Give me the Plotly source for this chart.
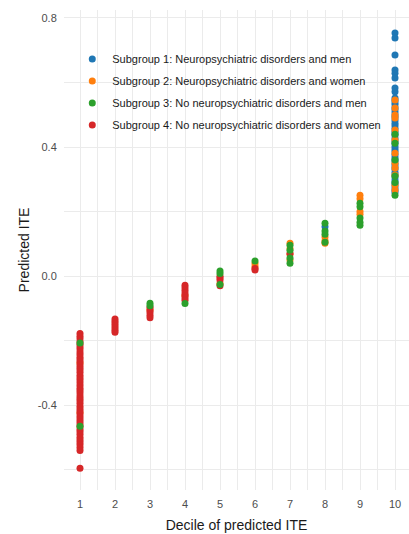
import plotly.graph_objects as go

# Subgroup labels and colours
group_names = [
    "Subgroup 1: Neuropsychiatric disorders and men",
    "Subgroup 2: Neuropsychiatric disorders and women",
    "Subgroup 3: No neuropsychiatric disorders and men",
    "Subgroup 4: No neuropsychiatric disorders and women",
]
group_colors = ["#1f77b4", "#ff7f0e", "#2ca02c", "#d62728"]

# Subgroup 1: decile and predicted ITE
sg1_decile = [8] + [10] * 46
sg1_ite = [0.153,
           0.753, 0.738, 0.685, 0.639, 0.629, 0.614, 0.583, 0.571,
           0.552, 0.545, 0.537, 0.531, 0.522, 0.515, 0.506, 0.498,
           0.491, 0.482, 0.474, 0.467, 0.458, 0.449, 0.442, 0.435,
           0.426, 0.418, 0.411, 0.402, 0.394, 0.387, 0.378, 0.369,
           0.362, 0.355, 0.346, 0.338, 0.331, 0.322, 0.314, 0.307,
           0.298, 0.290, 0.283, 0.274, 0.266, 0.259]

# Subgroup 2
sg2_decile = [1, 1, 3, 4, 5, 6, 6, 7, 7, 7, 7, 8, 8, 8, 9, 9, 9, 9,
              10, 10, 10, 10, 10, 10, 10, 10, 10, 10, 10, 10]
sg2_ite = [-0.269, -0.423, -0.105, -0.060, -0.022, 0.039, 0.030,
           0.102, 0.085, 0.068, 0.050, 0.121, 0.110, 0.102,
           0.251, 0.240, 0.200, 0.192,
           0.546, 0.521, 0.499, 0.490, 0.453, 0.422, 0.381, 0.350,
           0.335, 0.313, 0.282, 0.267]

# Subgroup 3
sg3_decile = [1, 1, 3, 3, 4, 5, 5, 5, 6, 7, 7, 7, 7, 8, 8, 8, 8,
              9, 9, 9, 9, 9, 10, 10, 10, 10, 10, 10]
sg3_ite = [-0.207, -0.465, -0.084, -0.092, -0.085, 0.016, 0.008, -0.026,
           0.047, 0.096, 0.080, 0.056, 0.040, 0.164, 0.140, 0.130, 0.105,
           0.226, 0.215, 0.180, 0.167, 0.158,
           0.440, 0.412, 0.360, 0.310, 0.290, 0.251]

# Subgroup 4
sg4_decile = [1] * 47 + [2] * 7 + [3] * 5 + [4] * 7 + [5] * 4 + [6] * 2 + [7]
sg4_ite = [-0.178, -0.186, -0.194, -0.203, -0.211, -0.219, -0.226, -0.235,
           -0.243, -0.251, -0.258, -0.266, -0.275, -0.283, -0.290, -0.298,
           -0.307, -0.315, -0.322, -0.330, -0.339, -0.347, -0.354, -0.362,
           -0.371, -0.379, -0.386, -0.394, -0.403, -0.411, -0.418, -0.426,
           -0.435, -0.443, -0.450, -0.458, -0.467, -0.475, -0.482, -0.490,
           -0.499, -0.507, -0.514, -0.522, -0.531, -0.540, -0.595,
           -0.133, -0.140, -0.147, -0.154, -0.161, -0.168, -0.174,
           -0.096, -0.105, -0.113, -0.121, -0.129,
           -0.028, -0.036, -0.044, -0.052, -0.060, -0.068, -0.075,
           0.000, -0.006, -0.012, -0.030,
           0.024, 0.019,
           0.070]

deciles = [sg1_decile, sg2_decile, sg3_decile, sg4_decile]
ites = [sg1_ite, sg2_ite, sg3_ite, sg4_ite]

x_ticks = list(range(1, 11))
y_ticks = [-0.4, 0.0, 0.4, 0.8]
y_tick_text = ["-0.4", "0.0", "0.4", "0.8"]

FONT = "Liberation Sans, Arial, sans-serif"
GRID = "#ebebeb"

fig = go.Figure()
# drawing order: blue, orange, red, green (legend keeps 1-4)
for i in [0, 1, 3, 2]:
    fig.add_trace(go.Scatter(
        x=deciles[i], y=ites[i], mode="markers", name=group_names[i],
        legendgroup=f"g{i}", legendrank=i + 1,
        marker=dict(color=group_colors[i], size=7, line=dict(width=0)),
    ))

# white legend panel: hides the grid, but stays beneath the points
fig.add_shape(type="rect", xref="paper", yref="paper",
              x0=0.061, x1=0.936, y0=0.7396, y1=0.9229,
              fillcolor="white", line=dict(width=0), layer="between")

fig.update_layout(
    width=409, height=534,
    margin=dict(l=64, r=0, t=10, b=44),
    paper_bgcolor="white", plot_bgcolor="white",
    font=dict(family=FONT, color="#000000"),
    showlegend=True,
    legend=dict(
        x=0.024, y=0.928, xanchor="left", yanchor="top",
        bgcolor="rgba(255,255,255,0)",
        font=dict(size=11, color="#1a1a1a", family=FONT),
        traceorder="grouped", tracegroupgap=3,
        itemsizing="trace",
    ),
    xaxis=dict(
        range=[0.543, 10.4], tickmode="array", tickvals=x_ticks,
        ticktext=[str(v) for v in x_ticks],
        showgrid=True, gridcolor=GRID, gridwidth=1.1,
        minor=dict(tickmode="array", tickvals=[v + 0.5 for v in range(0, 11)],
                   showgrid=True, gridcolor=GRID, gridwidth=0.6),
        zeroline=False, showline=False,
        ticks="outside", ticklen=4, tickcolor="rgba(0,0,0,0)",
        tickfont=dict(size=11, color="#4d4d4d"),
        title=dict(text="Decile of predicted ITE", font=dict(size=14, color="#1a1a1a"),
                   standoff=10),
    ),
    yaxis=dict(
        range=[-0.6626, 0.8246], tickmode="array", tickvals=y_ticks,
        ticktext=y_tick_text,
        showgrid=True, gridcolor=GRID, gridwidth=1.1,
        minor=dict(tickmode="array", tickvals=[-0.6, -0.2, 0.2, 0.6],
                   showgrid=True, gridcolor=GRID, gridwidth=0.6),
        zeroline=False, showline=False,
        ticks="outside", ticklen=4, tickcolor="rgba(0,0,0,0)",
        tickfont=dict(size=11, color="#4d4d4d"),
        title=dict(text="Predicted ITE", font=dict(size=14, color="#1a1a1a"),
                   standoff=4),
    ),
)

fig.write_html("out.html")
